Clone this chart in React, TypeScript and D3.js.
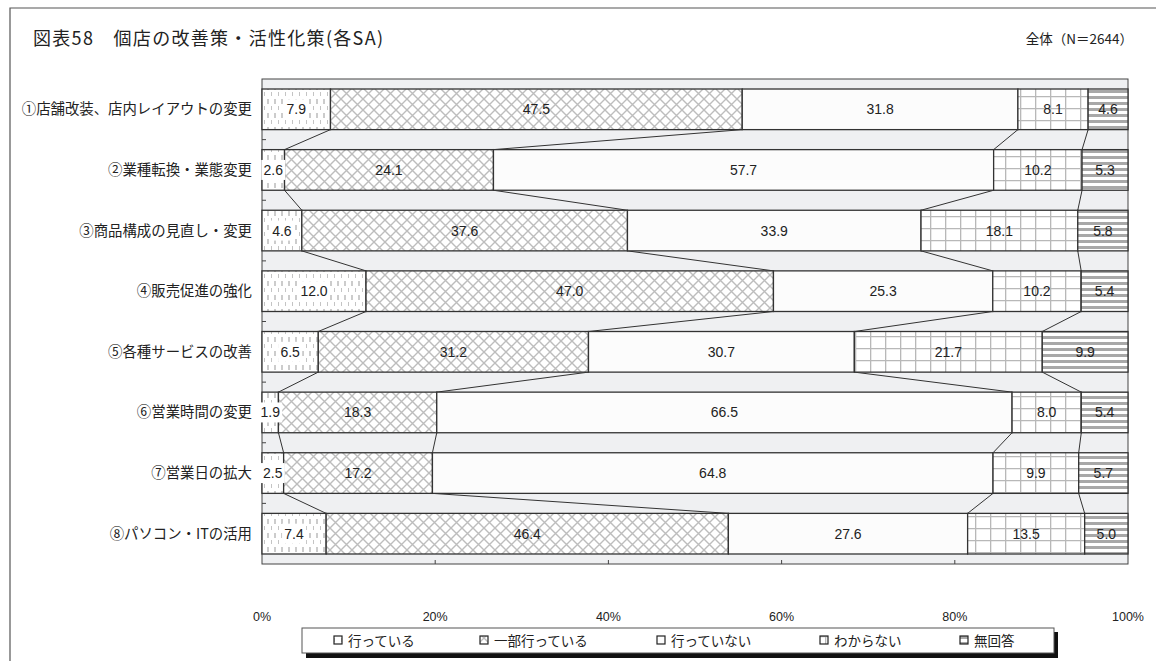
import React from "react";
import * as d3 from "d3";

// chart data
const categories = [
  "①店舗改装、店内レイアウトの変更",
  "②業種転換・業態変更",
  "③商品構成の見直し・変更",
  "④販売促進の強化",
  "⑤各種サービスの改善",
  "⑥営業時間の変更",
  "⑦営業日の拡大",
  "⑧パソコン・ITの活用",
];
const seriesNames = ["行っている", "一部行っている", "行っていない", "わからない", "無回答"];
const doing = [7.9, 2.6, 4.6, 12.0, 6.5, 1.9, 2.5, 7.4];
const partly = [47.5, 24.1, 37.6, 47.0, 31.2, 18.3, 17.2, 46.4];
const notDoing = [31.8, 57.7, 33.9, 25.3, 30.7, 66.5, 64.8, 27.6];
const unknown = [8.1, 10.2, 18.1, 10.2, 21.7, 8.0, 9.9, 13.5];
const noAnswer = [4.6, 5.3, 5.8, 5.4, 9.9, 5.4, 5.7, 5.0];
const xTicks = [0, 0.2, 0.4, 0.6, 0.8, 1];

const W = 1156,
  H = 661;
const margin = { left: 262, right: 1128, top: 79, bottom: 564 };
const patternIds = ["p-doing", "p-partly", "p-not", "p-unknown", "p-noans"];
const jp = "'Noto Sans CJK JP', 'Noto Sans', sans-serif";
const num = "'Liberation Sans', 'DejaVu Sans', sans-serif";

const App = () => {
  const series = [doing, partly, notDoing, unknown, noAnswer];
  const rows = categories.map((c, i) => {
    const vals = series.map((s) => s[i]);
    const total = d3.sum(vals);
    const cum = [0];
    vals.forEach((v) => cum.push(cum[cum.length - 1] + v / total));
    return { c, vals, cum };
  });

  const x = d3.scaleLinear().domain([0, 1]).range([margin.left, margin.right]);
  const y = d3
    .scaleBand()
    .domain(categories)
    .range([margin.top, margin.bottom])
    .paddingInner(0.33)
    .paddingOuter(0.165);
  const bw = y.bandwidth();
  const step = y.step();

  // legend positions
  const legendX = [334, 480, 657, 820, 960];

  return (
    <svg width={W} height={H} style={{ position: "absolute", left: 0, top: 0, background: "#fff" }}>
      <defs>
        <pattern id="p-doing" width="7" height="14" patternUnits="userSpaceOnUse">
          <rect width="7" height="14" fill="#fff" />
          <line x1="2" y1="1" x2="2" y2="6" stroke="#aaa" strokeWidth="1.2" />
          <line x1="5.5" y1="8" x2="5.5" y2="12" stroke="#c4c4c4" strokeWidth="1" />
        </pattern>
        <pattern id="p-partly" width="11" height="11" patternUnits="userSpaceOnUse">
          <rect width="11" height="11" fill="#fff" />
          <path d="M0,0 L11,11 M11,0 L0,11" stroke="#bdbdbd" strokeWidth="1.4" />
        </pattern>
        <pattern id="p-not" width="10" height="10" patternUnits="userSpaceOnUse">
          <rect width="10" height="10" fill="#fcfcfc" />
        </pattern>
        <pattern id="p-unknown" width="15" height="12" patternUnits="userSpaceOnUse">
          <rect width="15" height="12" fill="#fff" />
          <path d="M0.5,0 V12 M0,0.5 H15" stroke="#b8b8b8" strokeWidth="1.6" />
        </pattern>
        <pattern id="p-noans" width="6" height="6" patternUnits="userSpaceOnUse">
          <rect width="6" height="6" fill="#fff" />
          <rect y="0" width="6" height="3" fill="#a8a8a8" />
        </pattern>
      </defs>

      {/* outer frame */}
      <path d={`M10,${H} V8 H${W}`} fill="none" stroke="#555" strokeWidth="1.2" />

      {/* title */}
      <text x={33} y={45} fontFamily={jp} fontSize={18} fill="#222" textLength={350} lengthAdjust="spacing">
        図表58　個店の改善策・活性化策(各SA)
      </text>
      <text x={1133} y={44} textAnchor="end" fontFamily={jp} fontSize={13.5} fill="#222">
        全体（N＝2644）
      </text>

      {/* plot area */}
      <rect
        x={margin.left}
        y={margin.top}
        width={margin.right - margin.left}
        height={margin.bottom - margin.top}
        fill="#eff0f2"
        stroke="#444"
        strokeWidth="1"
      />

      {/* left ticks between categories */}
      {categories.slice(1).map((c) => {
        const yy = (y(c) as number) - (step - bw) / 2;
        return <line key={c} x1={margin.left} x2={margin.left + 4} y1={yy} y2={yy} stroke="#444" />;
      })}
      {/* bottom ticks */}
      {xTicks.slice(1, -1).map((t) => (
        <line key={t} x1={x(t)} x2={x(t)} y1={margin.bottom} y2={margin.bottom - 4} stroke="#444" />
      ))}

      {/* connector lines */}
      {rows.slice(0, -1).map((r, i) => {
        const nxt = rows[i + 1];
        const y0 = (y(r.c) as number) + bw;
        const y1 = y(nxt.c) as number;
        return [1, 2, 3, 4].map((j) => (
          <line
            key={`${i}-${j}`}
            x1={x(r.cum[j])}
            y1={y0}
            x2={x(nxt.cum[j])}
            y2={y1}
            stroke="#333"
            strokeWidth="1"
          />
        ));
      })}

      {/* bars */}
      {rows.map((r) =>
        r.vals.map((v, k) => (
          <rect
            key={`${r.c}-${k}`}
            x={x(r.cum[k])}
            y={y(r.c)}
            width={x(r.cum[k + 1]) - x(r.cum[k])}
            height={bw}
            fill={`url(#${patternIds[k]})`}
            stroke="#333"
            strokeWidth="1.3"
          />
        ))
      )}

      {/* value labels */}
      {rows.map((r) =>
        r.vals.map((v, k) => {
          const cx = (x(r.cum[k]) + x(r.cum[k + 1])) / 2;
          const cy = (y(r.c) as number) + bw / 2;
          const label = v.toFixed(1);
          const tw = label.length * 7 + 3;
          return (
            <g key={`l-${r.c}-${k}`}>
              {k === 0 && (
                <rect x={cx - tw / 2} y={cy - 10} width={tw} height={20} fill="#fff" />
              )}
              <text
                x={cx}
                y={cy + 5}
                textAnchor="middle"
                fontFamily={num}
                fontSize={14}
                fill="#222"
              >
                {label}
              </text>
            </g>
          );
        })
      )}

      {/* category labels */}
      {categories.map((c) => (
        <text
          key={c}
          x={252}
          y={(y(c) as number) + bw / 2 + 5}
          textAnchor="end"
          fontFamily={jp}
          fontSize={14.4}
          fill="#222"
        >
          {c}
        </text>
      ))}

      {/* x axis labels */}
      {xTicks.map((t) => (
        <text
          key={t}
          x={x(t)}
          y={621}
          textAnchor="middle"
          fontFamily={num}
          fontSize={12.5}
          fill="#222"
        >
          {d3.format(".0%")(t)}
        </text>
      ))}

      {/* legend */}
      <rect x={306} y={632} width={752} height={26} fill="#111" />
      <rect x={302} y={628} width={752} height={25} fill="#fff" stroke="#555" strokeWidth="1" />
      {seriesNames.map((s, k) => (
        <g key={s}>
          <rect
            x={legendX[k]}
            y={636}
            width={8}
            height={8}
            fill={`url(#${patternIds[k]})`}
            stroke="#222"
            strokeWidth="1.2"
          />
          <text x={legendX[k] + 14} y={645.5} fontFamily={jp} fontSize={13.5} fill="#222">
            {s}
          </text>
        </g>
      ))}
    </svg>
  );
};

export default App;
